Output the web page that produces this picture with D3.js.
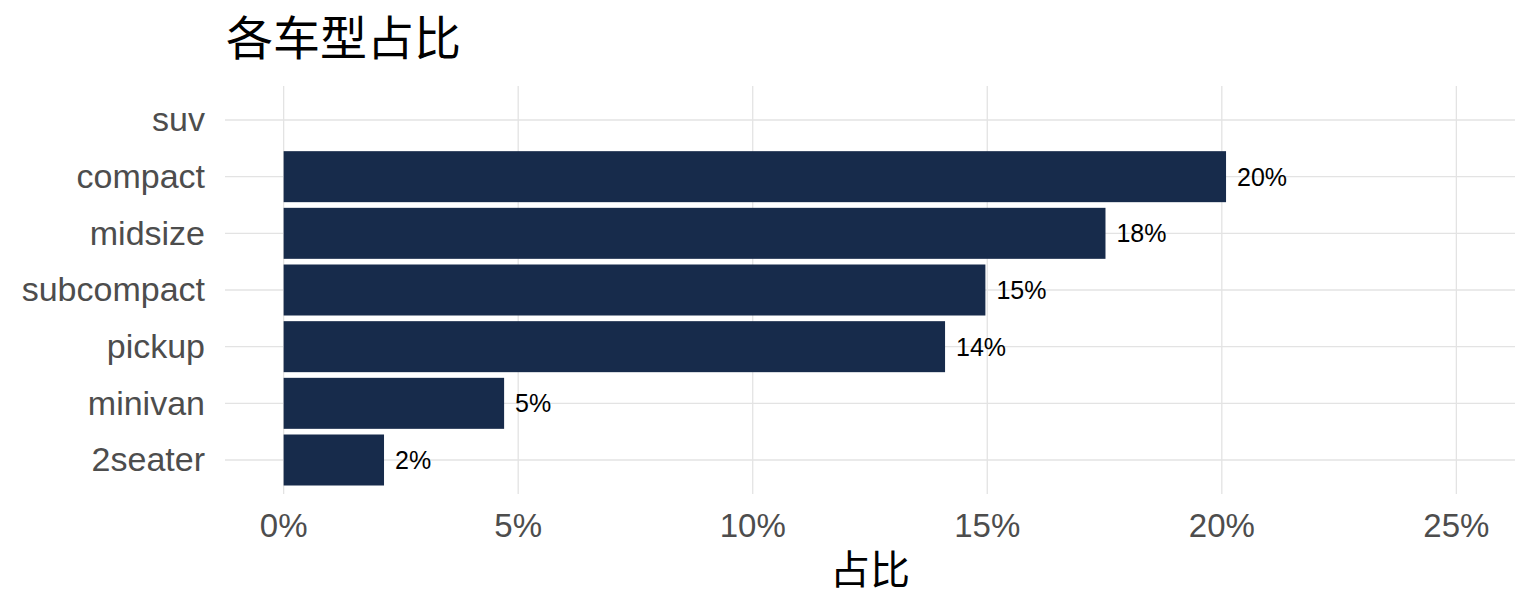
<!DOCTYPE html>
<html><head><meta charset="utf-8">
<script src="https://cdn.jsdelivr.net/npm/d3@7"></script>
<style>
html,body{margin:0;padding:0;background:#fff;}
svg{display:block;font-family:"Liberation Sans",Arial,sans-serif;}
</style></head>
<body>
<svg id="chart" width="1536" height="614"></svg>
<script>
const categories = ["suv","compact","midsize","subcompact","pickup","minivan","2seater"];
const shares = [0.2650, 0.2009, 0.1752, 0.1496, 0.1410, 0.0470, 0.0214];
const labels = ["27%","20%","18%","15%","14%","5%","2%"];
const xTicks = [0, 0.05, 0.10, 0.15, 0.20, 0.25];
const xTickLabels = ["0%","5%","10%","15%","20%","25%"];
const xLimits = [0, 0.25];
const title = "各车型占比";
const xTitle = "占比";

const svg = d3.select("#chart");
const panel = {left:225, right:1515, top:86, bottom:494};
const span = xLimits[1]-xLimits[0];
const x = d3.scaleLinear()
  .domain([xLimits[0]-0.05*span, xLimits[1]+0.05*span])
  .range([panel.left, panel.right]);
const nCat = categories.length;
const y = d3.scaleLinear().domain([-0.6, nCat-1+0.6]).range([panel.top, panel.bottom]);
const bandH = y(1)-y(0);

const grid = svg.append("g");
grid.selectAll("line.v").data(xTicks).join("line")
  .attr("x1",d=>x(d)).attr("x2",d=>x(d))
  .attr("y1",panel.top).attr("y2",panel.bottom)
  .attr("stroke","#e3e3e3").attr("stroke-width",1.3);
grid.selectAll("line.h").data(categories).join("line")
  .attr("x1",panel.left).attr("x2",panel.right)
  .attr("y1",(d,i)=>y(i)).attr("y2",(d,i)=>y(i))
  .attr("stroke","#e3e3e3").attr("stroke-width",1.3);

const data = categories.map((c,i)=>({c, v:shares[i], l:labels[i], i}))
  .filter(d=>d.v>=xLimits[0] && d.v<=xLimits[1]);

svg.append("g").selectAll("rect").data(data).join("rect")
  .attr("x",x(0)).attr("width",d=>x(d.v)-x(0))
  .attr("y",d=>y(d.i)-0.45*bandH).attr("height",0.9*bandH)
  .attr("fill","#172B4B");

svg.append("g").selectAll("text").data(data).join("text")
  .attr("x",d=>x(d.v)+11).attr("y",d=>y(d.i))
  .attr("dy","0.36em")
  .attr("font-size",25).attr("fill","#000")
  .text(d=>d.l);

// y axis labels
svg.append("g").selectAll("text").data(categories).join("text")
  .attr("x",205).attr("y",(d,i)=>y(i)).attr("dy","0.33em")
  .attr("text-anchor","end").attr("font-size",34).attr("fill","#4D4D4D")
  .text(d=>d);

// x axis labels
svg.append("g").selectAll("text").data(xTicks).join("text")
  .attr("x",d=>x(d)).attr("y",537)
  .attr("text-anchor","middle").attr("font-size",33).attr("fill","#4D4D4D")
  .text((d,i)=>xTickLabels[i]);

svg.append("text")
  .attr("x",(panel.left+panel.right)/2).attr("y",584)
  .attr("text-anchor","middle")
  .attr("font-family","'Noto Sans CJK SC',sans-serif")
  .attr("font-size",40).attr("fill","#000").text(xTitle);

svg.append("text")
  .attr("x",226).attr("y",55)
  .attr("font-family","'Noto Sans CJK SC',sans-serif")
  .attr("font-size",47).attr("fill","#000").text(title);
</script>
</body></html>
